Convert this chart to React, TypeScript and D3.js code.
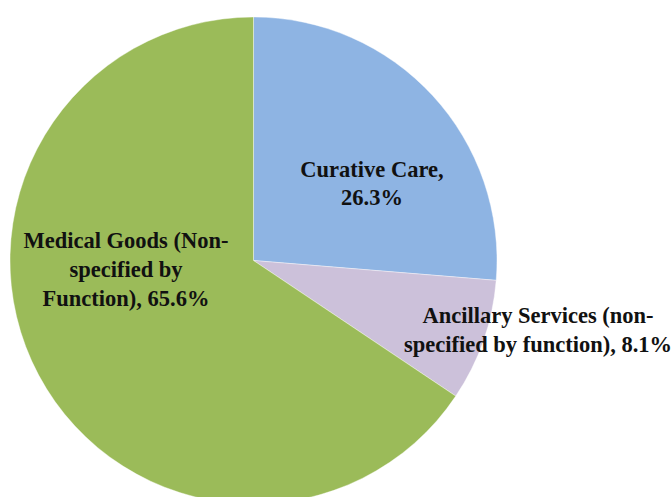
import { useMemo } from "react";
import * as d3 from "d3";

// Slice data (clockwise from 12 o'clock)
const categories = ["Curative Care", "Ancillary Services", "Medical Goods"];
const shares = [26.3, 8.1, 65.6];
const labelLines = [
  ["Curative Care,", "26.3%"],
  ["Ancillary Services (non-", "specified by function), 8.1%"],
  ["Medical Goods (Non-", "specified by", "Function), 65.6%"],
];
const colors = ["#8EB4E3", "#CCC1DA", "#9BBB59"];

// Layout
const W = 671;
const H = 497;
const CX = 253.5;
const CY = 260.5;
const R = 243.5;
const LINE_H = 28.8;
// label anchor: x centre, first baseline (relative to pie centre)
const labelPos = [
  { dx: 118.5, dy: -84 },
  { dx: 284.5, dy: 62.5 },
  { dx: -127.5, dy: -12.5 },
];

export default function App() {
  const arcs = useMemo(() => {
    const pie = d3
      .pie<number>()
      .sort(null)
      .value((d) => d);
    return pie(shares);
  }, []);

  const arc = d3.arc<d3.PieArcDatum<number>>().innerRadius(0).outerRadius(R);

  return (
    <svg
      width={W}
      height={H}
      style={{ position: "absolute", left: 0, top: 0, background: "#fff" }}
    >
      <g transform={`translate(${CX},${CY})`}>
        {arcs.map((a, i) => (
          <path
            key={categories[i]}
            d={arc(a) ?? ""}
            fill={colors[i]}
            stroke="#ffffff"
            strokeWidth={0.4}
          />
        ))}
        {labelLines.map((lines, i) => (
          <text
            key={"lbl" + i}
            textAnchor="middle"
            fontFamily="'Palatino Linotype', 'Book Antiqua', Palatino, 'Liberation Serif', serif"
            fontWeight="bold"
            fontSize={22.5}
            fill="#111"
          >
            {lines.map((t, j) => (
              <tspan
                key={j}
                x={labelPos[i].dx}
                y={labelPos[i].dy + j * LINE_H}
              >
                {t}
              </tspan>
            ))}
          </text>
        ))}
      </g>
    </svg>
  );
}
